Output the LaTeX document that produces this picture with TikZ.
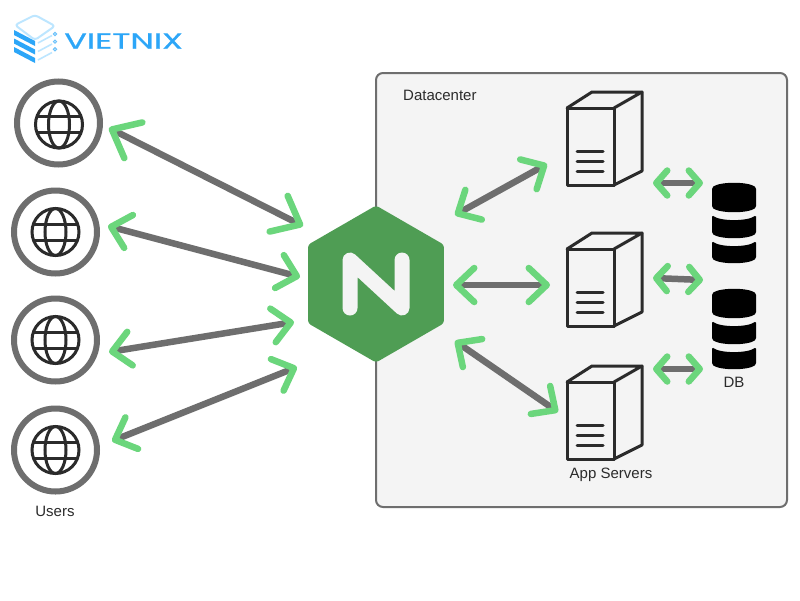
\documentclass[tikz,border=0pt]{standalone}
\usepackage{fontspec}
\setmainfont{Liberation Sans}
\newfontfamily\logofont[FakeBold=0.8]{Poppins}
\usetikzlibrary{arrows.meta,shapes.geometric}
\definecolor{linkgray}{HTML}{6E6E6E}
\definecolor{tipgreen}{HTML}{6BD67C}
\definecolor{panel}{HTML}{F4F4F4}
\definecolor{ngreen}{HTML}{4F9D54}
\definecolor{ink}{HTML}{2B2B2B}
\definecolor{logoblue}{HTML}{2CA6F8}
\definecolor{logolight}{HTML}{BDE6FF}
\tikzset{
  x=1pt,y=-1pt,
  link/.style n args={2}{draw=linkgray,line width=6.5pt,
    {Straight Barb[color=tipgreen,length=#1,width=#2,line width=6.5pt,round]}-{Straight Barb[color=tipgreen,length=#1,width=#2,line width=6.5pt,round]}},
  biglink/.style={link={24pt}{40pt}},
  midlink/.style={link={18pt}{34pt}},
  smalllink/.style={link={11pt}{25pt}},
  usercircle/.style={circle,draw=linkgray,line width=6pt,fill=white,minimum size=83pt,inner sep=0pt},
  label/.style={text=ink,font=\fontsize{15}{17}\selectfont,inner sep=0pt},
  serverline/.style={draw=ink,line width=3pt,line join=round,line cap=round},
  globeline/.style={draw=ink,line width=3pt},
  pics/globe/.style={code={
    \draw[globeline] (0,0) circle[radius=23.5];
    \draw[globeline] (0,0) ellipse[x radius=10.5,y radius=23.5];
    \draw[globeline] (-21.5,-8) -- (21.5,-8);
    \draw[globeline] (-21.5,8) -- (21.5,8);
  }},
  pics/server/.style={code={
    \draw[serverline] (0,0) rectangle (47,77);
    \draw[serverline] (0,0) -- (25,-16) -- (75,-16) -- (47,0);
    \draw[serverline] (75,-16) -- (75,63) -- (47,77);
    \draw[serverline] (10,43) -- (36,43);
    \draw[serverline] (10,53) -- (36,53);
    \draw[serverline] (10,63) -- (36,63);
  }},
  pics/dbstack/.style={code={
    \fill[black,rounded corners=1.5pt] (-22,4.5) .. controls (-14,-1.5) and (14,-1.5) .. (22,4.5) -- (22,24.5) .. controls (14,30.5) and (-14,30.5) .. (-22,24.5) -- cycle;
    \fill[black,rounded corners=1.5pt] (-22,32) .. controls (-14,38.5) and (14,38.5) .. (22,32) -- (22,50.5) .. controls (14,56.5) and (-14,56.5) .. (-22,50.5) -- cycle;
    \fill[black,rounded corners=1.5pt] (-22,58) .. controls (-14,64.5) and (14,64.5) .. (22,58) -- (22,75.5) .. controls (14,81.5) and (-14,81.5) .. (-22,75.5) -- cycle;
  }}
}
\begin{document}
\begin{tikzpicture}
\useasboundingbox (0,0) rectangle (800,600);
\fill[white] (0,0) rectangle (800,600);

% datacenter panel
\node[draw=linkgray,line width=2pt,fill=panel,rounded corners=7pt,minimum width=411pt,minimum height=434pt,inner sep=0pt] (dc) at (581.5,290) {};
\node[label,anchor=west] (dctext) at (403,95) {Datacenter};

% logo
\draw[logolight,line width=2pt,line join=round,rounded corners=3pt] (35,15) -- (55,26) -- (35,40) -- (15,25) -- cycle;
\foreach \d in {0,8.5,17}{
  \fill[logoblue] (14,{30+\d}) -- (35,{41+\d}) -- (35,{46+\d}) -- (14,{35+\d}) -- cycle;
  \draw[logolight,line width=1.6pt] (38,{43+\d}) -- (52,{35.5+\d});
  \draw[logoblue!70,line width=1pt,fill=white] (55,{34+0.9*\d}) circle[radius=1.6];
}
\node[text=logoblue,inner sep=0pt,anchor=west,xscale=1.52] (logotext) at (64,41) {\logofont\fontsize{22}{24}\selectfont VIETNIX};

% users
\node[usercircle] (u1) at (58.5,123) {};
\node[usercircle] (u2) at (55.5,232) {};
\node[usercircle] (u3) at (55.5,340) {};
\node[usercircle] (u4) at (55.5,450) {};
\pic at (59,124.5) {globe};
\pic at (55.5,232) {globe};
\pic at (55.5,340) {globe};
\pic at (55.5,450) {globe};
\node[label] (users) at (55,511) {Users};

% nginx
\node[regular polygon,regular polygon sides=6,shape border rotate=30,minimum size=157pt,inner sep=0pt,fill=ngreen,rounded corners=3pt] (ng) at (376,284) {};
\draw[panel,line width=15pt,line cap=round,line join=round] (350,308) -- (350,260) -- (402,308) -- (402,260);

% servers
\pic at (567,108) {server};
\pic at (567,249) {server};
\pic at (567,382) {server};
\node[label] (apps) at (611,475) {App Servers};

% databases
\pic at (734,183) {dbstack};
\pic at (734,289) {dbstack};
\node[label] (db) at (734,382) {DB};

% connector ends
\coordinate (u1p) at (109,128); \coordinate (ng1) at (303,226);
\coordinate (u2p) at (108,226); \coordinate (ng2) at (300,277);
\coordinate (u3p) at (109,352); \coordinate (ng3) at (294,322);
\coordinate (u4p) at (112,441); \coordinate (ng4) at (297,367);
\coordinate (ngb1) at (455,215); \coordinate (s1p) at (547,164);
\coordinate (ngb2) at (453,285); \coordinate (s2p) at (550,285);
\coordinate (ngb3) at (455,341); \coordinate (s3p) at (558,412);
\coordinate (s1d) at (653,183); \coordinate (d1a) at (703,183);
\coordinate (s2d) at (653,278); \coordinate (d1b) at (703,280);
\coordinate (s3d) at (653,369); \coordinate (d2a) at (703,369);

\draw[biglink] (u1p) -- (ng1);
\draw[midlink] (u2p) -- (ng2);
\draw[midlink] (u3p) -- (ng3);
\draw[midlink] (u4p) -- (ng4);
\draw[midlink] (ngb1) -- (s1p);
\draw[midlink] (ngb2) -- (s2p);
\draw[midlink] (ngb3) -- (s3p);
\draw[smalllink] (s1d) -- (d1a);
\draw[smalllink] (s2d) -- (d1b);
\draw[smalllink] (s3d) -- (d2a);
\end{tikzpicture}
\end{document}
